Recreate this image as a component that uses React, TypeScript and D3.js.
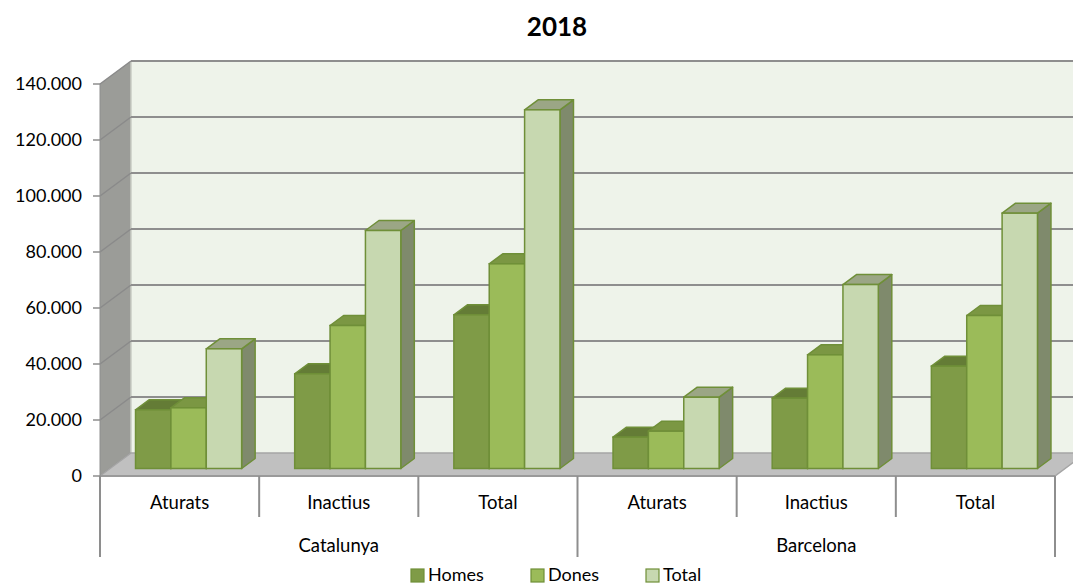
import React from "react";
import * as d3 from "d3";

const groups = ["Catalunya", "Barcelona"];
const categories = ["Aturats", "Inactius", "Total"];
const seriesNames = ["Homes", "Dones", "Total"];
// values per [group][category] for each series
const homes = [20960, 33820, 54890, 11200, 25100, 36550];
const dones = [21680, 51070, 73100, 13330, 40600, 54640];
const totals = [42750, 85000, 128100, 25460, 65700, 91190];
const yTicks = [0, 20000, 40000, 60000, 80000, 100000, 120000, 140000];

const W = 1073;
const H = 584;
const frontLeft = 100;
const frontRight = 1055;
const floorY = 476;
const topY = 84;
const wallDx = 31;
const wallDy = -23;
const barOffDx = 9;
const barOffDy = -7.5;
const barDx = 13.5;
const barDy = -10;

const frontColors = ["#7f9b47", "#9bbb59", "#c7d8b0"];
const topColors = ["#647c36", "#7b9743", "#9ba685"];
const sideColors = ["#5f7432", "#7a9443", "#7f8a6c"];
const outline = "#6f8f38";
const font = "Lato, 'Open Sans', sans-serif";

const fmt = (v: number) => (v === 0 ? "0" : d3.format(",")(v).replace(/,/g, "."));

export default function App() {
  const labels = groups.flatMap((g) => categories.map((c) => `${g}|${c}`));
  const x = d3.scaleBand<string>().domain(labels).range([frontLeft, frontRight]).paddingInner(0).paddingOuter(0);
  const inner = d3
    .scaleBand<string>()
    .domain(seriesNames)
    .range([0, x.bandwidth()])
    .paddingInner(0)
    .paddingOuter(0.75);
  const y = d3.scaleLinear().domain([0, 140000]).range([floorY, topY]);
  const yBack = (v: number) => y(v) + wallDy;
  const data = [homes, dones, totals];

  const bars: React.ReactNode[] = [];
  labels.forEach((lab, ci) => {
    seriesNames.forEach((s, si) => {
      const v = data[si][ci];
      const x0 = (x(lab) as number) + (inner(s) as number) + barOffDx;
      const x1 = x0 + inner.bandwidth();
      const yb = y(0) + barOffDy;
      const yt = y(v) + barOffDy;
      const side = `${x1},${yt} ${x1 + barDx},${yt + barDy} ${x1 + barDx},${yb + barDy} ${x1},${yb}`;
      const top = `${x0},${yt} ${x0 + barDx},${yt + barDy} ${x1 + barDx},${yt + barDy} ${x1},${yt}`;
      bars.push(
        <g key={`${ci}-${si}`}>
          <polygon points={side} fill={sideColors[si]} stroke={outline} strokeWidth={1.5} strokeLinejoin="round" />
          <polygon points={top} fill={topColors[si]} stroke={outline} strokeWidth={1.5} strokeLinejoin="round" />
          <rect x={x0} y={yt} width={x1 - x0} height={yb - yt} fill={frontColors[si]} stroke={outline} strokeWidth={1.5} />
        </g>
      );
    });
  });

  const backLeft = frontLeft + wallDx;
  const backRight = frontRight + wallDx;

  return (
    <div style={{ position: "absolute", left: 0, top: 0 }}>
      <svg width={W} height={H} style={{ display: "block", background: "#ffffff" }} fontFamily={font}>
        <text x={557} y={36} textAnchor="middle" fontSize={26} fontWeight="bold" fill="#000">
          2018
        </text>
        {/* back wall */}
        <rect x={backLeft} y={yBack(140000)} width={backRight - backLeft} height={y(0) - y(140000)} fill="#eef3ea" />
        {/* left wall */}
        <polygon
          points={`${frontLeft},${y(140000)} ${backLeft},${yBack(140000)} ${backLeft},${yBack(0)} ${frontLeft},${y(0)}`}
          fill="#9b9c98"
        />
        <line x1={backLeft} x2={backLeft} y1={yBack(140000)} y2={yBack(0)} stroke="#c9cdc5" strokeWidth={1.5} />
        {/* gridlines */}
        {yTicks.map((t) => (
          <g key={t}>
            {t > 0 && (
              <line x1={backLeft} x2={backRight} y1={yBack(t)} y2={yBack(t)} stroke="#8e8e8e" strokeWidth={2} />
            )}
            <line x1={frontLeft} x2={backLeft} y1={y(t)} y2={yBack(t)} stroke="#8a8a8a" strokeWidth={1.5} />
            <line x1={frontLeft - 7} x2={frontLeft} y1={y(t)} y2={y(t)} stroke="#8e8e8e" strokeWidth={1.5} />
            <text x={82} y={y(t)} dy="0.35em" textAnchor="end" fontSize={18} fill="#000">
              {fmt(t)}
            </text>
          </g>
        ))}
        {/* floor */}
        <polygon
          points={`${frontLeft},${y(0)} ${backLeft},${yBack(0)} ${backRight},${yBack(0)} ${frontRight},${y(0)}`}
          fill="#c0c0c0"
          stroke="#a5a5a5"
          strokeWidth={1.5}
        />
        <line x1={frontLeft} x2={frontRight} y1={y(0)} y2={y(0)} stroke="#9a9a9a" strokeWidth={2} />
        <line x1={frontLeft} x2={frontLeft} y1={y(140000)} y2={y(0)} stroke="#8e8e8e" strokeWidth={1} />
        {bars}
        {/* category axis */}
        {labels.map((lab) => (
          <text key={lab} x={(x(lab) as number) + x.bandwidth() / 2} y={503} dy="0.35em" textAnchor="middle" fontSize={18.5} fill="#000">
            {lab.split("|")[1]}
          </text>
        ))}
        {d3.range(labels.length + 1).map((i) => {
          const xx = frontLeft + i * x.bandwidth();
          const long = i % categories.length === 0;
          return (
            <line key={i} x1={xx} x2={xx} y1={y(0)} y2={long ? 557 : 517} stroke="#8e8e8e" strokeWidth={2} />
          );
        })}
        {groups.map((g, gi) => (
          <text
            key={g}
            x={frontLeft + (gi + 0.5) * categories.length * x.bandwidth()}
            y={546}
            dy="0.35em"
            textAnchor="middle"
            fontSize={18.5}
            fill="#000"
          >
            {g}
          </text>
        ))}
        {/* legend */}
        {seriesNames.map((s, i) => {
          const lx = [411, 531, 646][i];
          return (
            <g key={s}>
              <rect x={lx} y={569} width={13} height={13} fill={frontColors[i]} stroke={outline} strokeWidth={1.2} />
              <text x={lx + 17} y={581} fontSize={18} fill="#000">
                {s}
              </text>
            </g>
          );
        })}
      </svg>
    </div>
  );
}
